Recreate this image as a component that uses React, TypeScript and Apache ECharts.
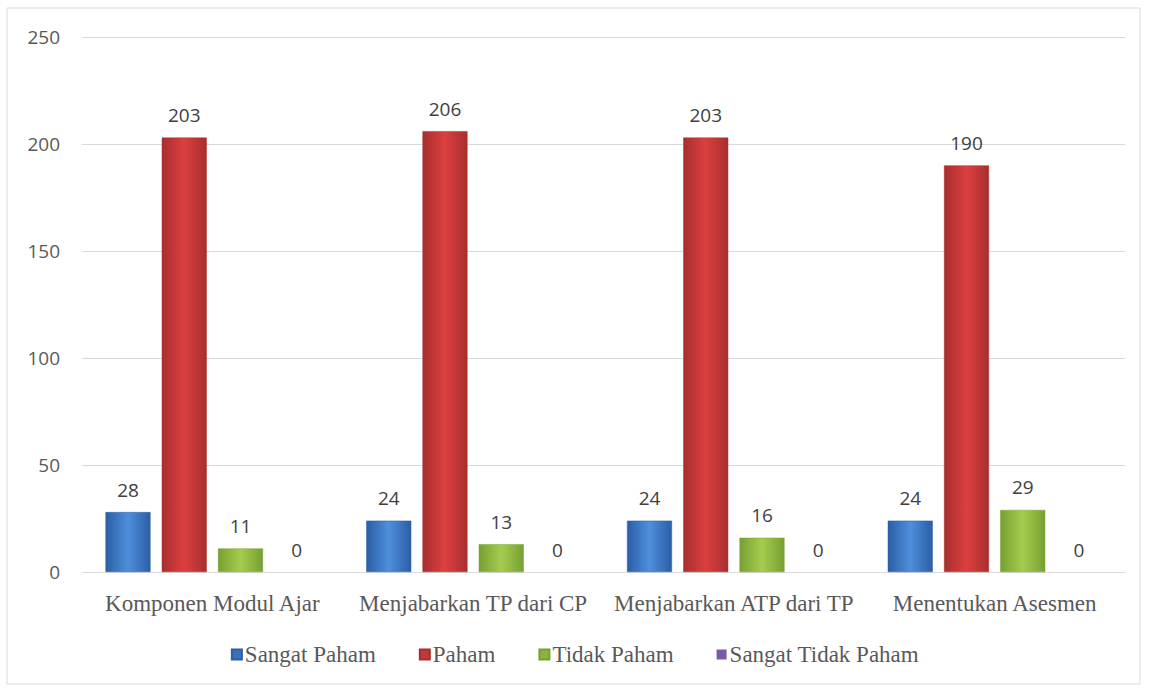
import React, { useEffect, useRef } from "react";
import * as echarts from "echarts";

const categories = [
  "Komponen Modul Ajar",
  "Menjabarkan TP dari CP",
  "Menjabarkan ATP dari TP",
  "Menentukan Asesmen",
];
const sangatPaham = [28, 24, 24, 24];
const paham = [203, 206, 203, 190];
const tidakPaham = [11, 13, 16, 29];
const sangatTidakPaham = [0, 0, 0, 0];
const yTicks = { min: 0, max: 250, interval: 50 };

function grad(mid: string, edge: string) {
  return new echarts.graphic.LinearGradient(0, 0, 1, 0, [
    { offset: 0, color: edge },
    { offset: 0.5, color: mid },
    { offset: 1, color: edge },
  ]);
}

export default function App() {
  const ref = useRef<HTMLDivElement>(null);
  useEffect(() => {
    if (!ref.current) return;
    const chart = echarts.init(ref.current, undefined, { renderer: "svg" });
    const label = {
      show: true,
      position: "top" as const,
      distance: 13,
      color: "#404040",
      fontSize: 19,
      fontFamily: "Open Sans, Liberation Sans, sans-serif",
    };
    const mk = (name: string, data: number[], c: string, c2: string, legendColor: string, bw: number) => ({
      name,
      type: "bar",
      data,
      barWidth: 45,
      barGap: "25%",
      label,
      itemStyle: {
        color: grad(c, c2),
        borderColor: c2,
        borderWidth: bw,
      },
      emphasis: { disabled: true },
      color: legendColor,
    });
    chart.setOption({
      animation: false,
      backgroundColor: "#ffffff",
      grid: { left: 82, right: 25, top: 37, bottom: 119 },
      legend: {
        bottom: 20,
        left: "center",
        itemWidth: 10,
        itemHeight: 10,
        itemGap: 43,
        icon: "rect",
        textStyle: {
          color: "#595959",
          fontSize: 23,
          padding: [0, 0, 0, -2],
          fontFamily: "Liberation Serif, Times New Roman, serif",
        },
        data: [
          { name: "Sangat Paham", itemStyle: { color: "#3a72b8" } },
          { name: "Paham", itemStyle: { color: "#c0393b" } },
          { name: "Tidak Paham", itemStyle: { color: "#8bb33e" } },
          { name: "Sangat Tidak Paham", itemStyle: { color: "#7b5ba6" } },
        ],
      },
      xAxis: {
        type: "category",
        data: categories,
        axisTick: { show: false },
        axisLine: { lineStyle: { color: "#d9d9d9" } },
        axisLabel: {
          color: "#595959",
          fontSize: 23,
          margin: 20,
          interval: 0,
          fontFamily: "Liberation Serif, Times New Roman, serif",
        },
      },
      yAxis: {
        type: "value",
        min: yTicks.min,
        max: yTicks.max,
        interval: yTicks.interval,
        axisLine: { show: false },
        axisTick: { show: false },
        splitLine: { lineStyle: { color: "#d9d9d9" } },
        axisLabel: {
          color: "#595959",
          fontSize: 19,
          margin: 22,
          fontFamily: "Open Sans, Liberation Sans, sans-serif",
        },
      },
      series: [
        mk("Sangat Paham", sangatPaham, "#4f8fdc", "#2b5ea5", "#3a72b8", 0.5),
        mk("Paham", paham, "#dc4040", "#a82e2e", "#c0393b", 0.5),
        mk("Tidak Paham", tidakPaham, "#a6cc4e", "#76a032", "#8bb33e", 0.5),
        mk("Sangat Tidak Paham", sangatTidakPaham, "#8e6bbb", "#654a8c", "#7b5ba6", 0),
      ],
      graphic: [
        {
          type: "rect",
          shape: { x: 7, y: 8, width: 1133, height: 676 },
          style: { fill: "none", stroke: "#d9d9d9", lineWidth: 1 },
          silent: true,
        },
      ],
    });
    return () => chart.dispose();
  }, []);
  return <div ref={ref} style={{ width: 1150, height: 691, position: "absolute", left: 0, top: 0 }} />;
}
